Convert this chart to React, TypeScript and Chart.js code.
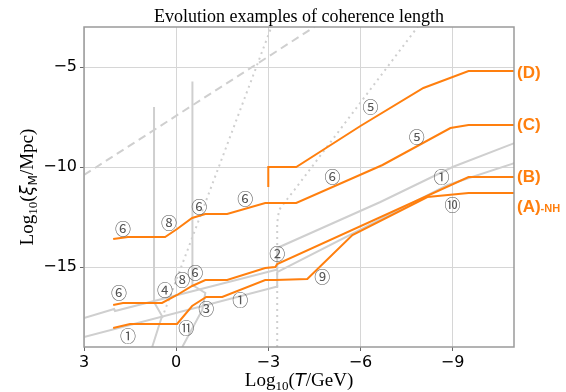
import React, { useEffect, useRef } from "react";
import { Chart, registerables } from "chart.js";
Chart.register(...registerables);

// axis ranges and ticks (x = log10 T/GeV, reversed; y = log10 xi/Mpc)
const xMin = -11;
const xMax = 3;
const yMin = -19;
const yMax = -3;
const xTicks = [3, 0, -3, -6, -9];
const yTicks = [-5, -10, -15];

// orange evolution examples
const dT = [-3, -3, -3.91, -6.0, -8.05, -9.52, -11];
const dXi = [-11, -10, -10, -7.95, -6.05, -5.2, -5.2];
const cT = [2.05, 1.57, 0.36, -0.03, -0.52, -0.95, -1.66, -2.9, -3.91, -6.72, -8.93, -9.52, -11];
const cXi = [-13.6, -13.5, -13.5, -13.1, -12.55, -12.35, -12.35, -11.8, -11.8, -9.9, -8.05, -7.9, -7.9];
const bT = [2.05, 1.73, 0.46, -0.03, -0.52, -0.95, -1.66, -2.9, -3.23, -3.29, -9.52, -11];
const bXi = [-16.9, -16.8, -16.8, -16.4, -15.95, -15.65, -15.65, -15.05, -15.0, -14.85, -10.5, -10.5];
const aT = [2.05, 1.5, -0.03, -0.52, -0.98, -1.5, -2.9, -3.23, -4.27, -5.74, -8.18, -9.52, -11];
const aXi = [-18.05, -17.85, -17.85, -16.95, -16.5, -16.5, -15.65, -15.65, -15.6, -13.4, -11.5, -11.3, -11.3];

// gray reference curves
const g1T = [3, 2.02, 1.99, -3.23, -3.29, -3.29, -6.65, -9.0, -11.02];
const g1Xi = [-17.55, -17.1, -17.2, -15.15, -15.15, -14.05, -11.75, -10.0, -8.8];
const g2T = [3, -3.23, -3.29, -3.29, -8.84, -11.02];
const g2Xi = [-18.5, -16.0, -16.0, -15.25, -10.9, -9.8];
const v1T = [0.78, 0.46, 0.72, 0.72];
const v1Xi = [-19, -17.45, -16.75, -7.0];
const v2T = [-0.2, -0.85, -0.95, -0.53, -0.53];
const v2Xi = [-19, -17.15, -16.3, -15.9, -5.73];
const dashT = [3, -4.5];
const dashXi = [-10.4, -3.0];
const dot1T = [0.46, -3.1];
const dot1Xi = [-17.55, -3.0];
const dot2T = [-3.29, -3.29, -3.35, -3.62, -3.85, -7.86];
const dot2Xi = [-19, -12.8, -12.15, -11.6, -11.15, -3.0];

// circled regime labels
const markText = ["⑥", "⑧", "⑥", "⑥", "⑥", "⑤", "⑤", "①", "⑩", "⑥", "④", "⑧", "⑥", "②", "⑨", "③", "①", "⑪", "①"];
const markT = [1.73, 0.23, -0.75, -2.25, -5.09, -6.33, -7.83, -8.64, -9.0, 1.86, 0.36, -0.2, -0.62, -3.29, -4.76, -0.98, -2.09, -0.33, 1.57];
const markXi = [-13.1, -12.8, -12.0, -11.6, -10.5, -7.0, -8.5, -10.5, -11.9, -16.3, -16.15, -15.65, -15.3, -14.35, -15.5, -17.1, -16.65, -18.05, -18.45];

// right-side case labels
const caseText = ["(D)", "(C)", "(B)", "(A)"];
const caseSuffix = ["", "", "", "-NH"];
const caseXi = [-5.3, -7.9, -10.5, -12.0];

const ORANGE = "#ff7f0e";
const GRAY = "#cfcfcf";

function pts(xs: number[], ys: number[]) {
  return xs.map((x, i) => ({ x, y: ys[i] }));
}

type Seg = { t: string; font: string; dy?: number };
function drawRich(ctx: CanvasRenderingContext2D, segs: Seg[], x: number, y: number) {
  let total = 0;
  const ws = segs.map((s) => {
    ctx.font = s.font;
    const w = ctx.measureText(s.t).width;
    total += w;
    return w;
  });
  let cx = x - total / 2;
  segs.forEach((s, i) => {
    ctx.font = s.font;
    ctx.fillText(s.t, cx, y + (s.dy || 0));
    cx += ws[i];
  });
}

const fmt = (v: number) => (v < 0 ? "\u2212" + Math.abs(v) : String(v));

const deco = {
  id: "deco",
  afterDatasetsDraw(chart: any) {
    const ctx: CanvasRenderingContext2D = chart.ctx;
    const { left, right, top, bottom } = chart.chartArea;
    const xs = chart.scales.x;
    const ys = chart.scales.y;
    ctx.save();
    ctx.strokeStyle = "#9a9a9a";
    ctx.lineWidth = 1.5;
    ctx.strokeRect(left, top, right - left, bottom - top);

    // circled labels
    ctx.font = "16px 'Noto Sans CJK JP'";
    ctx.fillStyle = "#555";
    ctx.textAlign = "center";
    ctx.textBaseline = "middle";
    markText.forEach((t, i) => {
      ctx.fillText(t, xs.getPixelForValue(markT[i]), ys.getPixelForValue(markXi[i]));
    });

    // case labels
    ctx.textAlign = "left";
    ctx.fillStyle = ORANGE;
    caseText.forEach((t, i) => {
      const py = ys.getPixelForValue(caseXi[i]);
      ctx.font = "bold 17px 'Liberation Sans'";
      const w = ctx.measureText(t).width;
      ctx.fillText(t, right + 3, py);
      if (caseSuffix[i]) {
        ctx.font = "bold 11px 'Liberation Sans'";
        ctx.fillText(caseSuffix[i], right + 3 + w, py + 2);
      }
    });

    // titles
    ctx.fillStyle = "#000";
    ctx.textAlign = "left";
    ctx.textBaseline = "alphabetic";
    const cxm = (left + right) / 2;
    drawRich(ctx, [{ t: "Evolution examples of coherence length", font: "18px 'Liberation Serif'" }], cxm, 22);
    const big = "19px 'Liberation Serif'";
    const sub = "13px 'Liberation Serif'";
    drawRich(
      ctx,
      [
        { t: "Log", font: big },
        { t: "10", font: sub, dy: 4 },
        { t: "(", font: big },
        { t: "T", font: "oblique 18px 'DejaVu Sans'" },
        { t: "/GeV)", font: big },
      ],
      cxm,
      386
    );
    ctx.translate(33, (top + bottom) / 2);
    ctx.rotate(-Math.PI / 2);
    drawRich(
      ctx,
      [
        { t: "Log", font: big },
        { t: "10", font: sub, dy: 4 },
        { t: "(", font: big },
        { t: "ξ", font: "oblique 18px 'DejaVu Sans'" },
        { t: "M", font: "12px 'DejaVu Sans'", dy: 4 },
        { t: "/Mpc)", font: big },
      ],
      0,
      0
    );
    ctx.restore();
  },
};

export default function App() {
  const ref = useRef<HTMLCanvasElement>(null);
  useEffect(() => {
    if (!ref.current) return;
    const orange = (xs: number[], ys: number[]) => ({
      data: pts(xs, ys),
      borderColor: ORANGE,
      borderWidth: 2,
      showLine: true,
      pointRadius: 0,
      tension: 0,
      order: 0,
    });
    const gray = (xs: number[], ys: number[], dash: number[] = []) => ({
      data: pts(xs, ys),
      borderColor: GRAY,
      borderWidth: 2,
      borderDash: dash,
      showLine: true,
      pointRadius: 0,
      tension: 0,
      order: 1,
    });
    const tickFont = { family: "'DejaVu Sans'", size: 16 };
    const chart = new Chart(ref.current, {
      type: "scatter",
      data: {
        datasets: [
          orange(dT, dXi),
          orange(cT, cXi),
          orange(bT, bXi),
          orange(aT, aXi),
          gray(g1T, g1Xi),
          gray(g2T, g2Xi),
          gray(v1T, v1Xi),
          gray(v2T, v2Xi),
          gray(dashT, dashXi, [8, 5]),
          gray(dot1T, dot1Xi, [2, 4]),
          gray(dot2T, dot2Xi, [2, 4]),
        ] as any,
      },
      options: {
        animation: false,
        responsive: false,
        devicePixelRatio: 1,
        layout: { padding: { left: 0, top: 27, right: 52, bottom: 0 } },
        plugins: { legend: { display: false }, tooltip: { enabled: false }, title: { display: false } },
        scales: {
          x: {
            type: "linear",
            reverse: true,
            min: xMin,
            max: xMax,
            afterBuildTicks: (a: any) => {
              a.ticks = xTicks.map((v) => ({ value: v }));
            },
            afterFit: (s: any) => {
              s.height = 45;
            },
            border: { display: false },
            grid: { color: "#d6d6d6", lineWidth: 1, tickLength: 4, tickColor: "#666" },
            ticks: { font: tickFont, color: "#000", padding: 2, maxRotation: 0, autoSkip: false, callback: (v: any) => fmt(Number(v)) },
          },
          y: {
            type: "linear",
            min: yMin,
            max: yMax,
            afterBuildTicks: (a: any) => {
              a.ticks = yTicks.map((v) => ({ value: v }));
            },
            afterFit: (s: any) => {
              s.width = 84;
            },
            border: { display: false },
            grid: { color: "#d6d6d6", lineWidth: 1, tickLength: 4, tickColor: "#666" },
            ticks: { font: tickFont, color: "#000", padding: 3, autoSkip: false, callback: (v: any) => fmt(Number(v)) },
          },
        },
      },
      plugins: [deco],
    });
    return () => chart.destroy();
  }, []);
  return (
    <div style={{ position: "fixed", left: 0, top: 0, width: 566, height: 392, background: "#fff" }}>
      <canvas ref={ref} width={566} height={392} style={{ display: "block" }} />
    </div>
  );
}
